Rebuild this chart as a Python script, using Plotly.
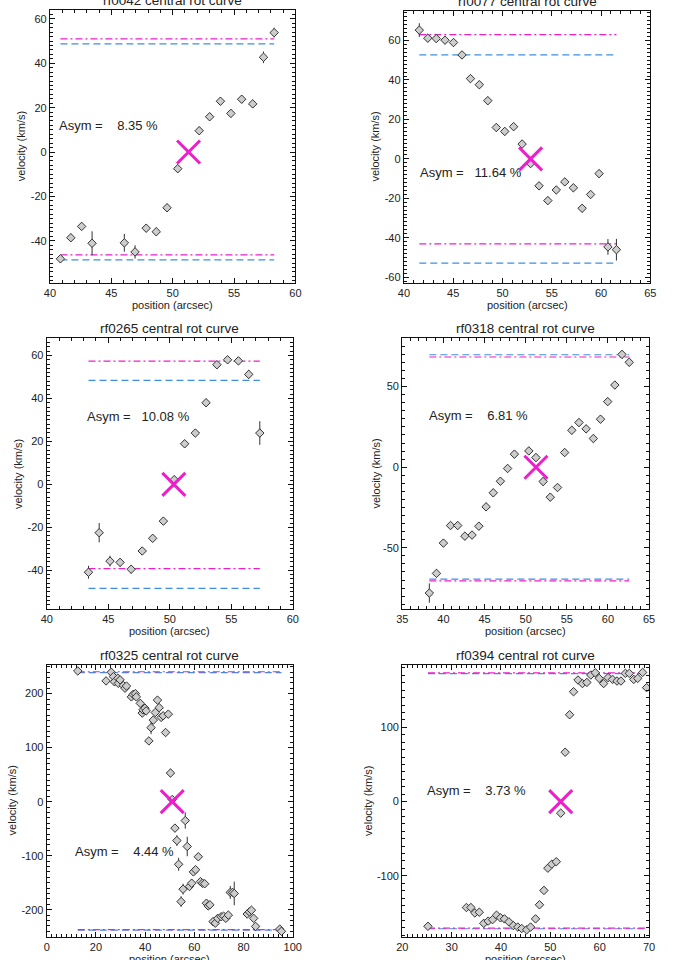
import numpy as np
import plotly.graph_objects as go

W, H = 674, 960
FONT = "Liberation Sans, Arial, Helvetica, sans-serif"
MAG = "#ee1ecc"
BLUE = "#3f8fe0"
INK = "#222222"

# ---------------- data ----------------
titles = ["rf0042 central rot curve", "rf0077 central rot curve",
          "rf0265 central rot curve", "rf0318 central rot curve",
          "rf0325 central rot curve", "rf0394 central rot curve"]
asym = [8.35, 11.64, 10.08, 6.81, 4.44, 3.73]
centers = [51.29, 52.85, 50.33, 51.25, 51.0, 52.1]

# rf0042
pos1 = [40.85, 41.70, 42.58, 43.43, 46.06, 46.93, 47.84, 48.66, 49.54, 50.41,
        52.16, 53.01, 53.89, 54.74, 55.62, 56.52, 57.40, 58.27]
vel1 = [-48.1, -38.6, -33.5, -41.1, -40.9, -45.0, -34.3, -35.9, -25.1, -7.5,
        9.6, 15.9, 22.9, 17.4, 23.8, 21.7, 42.7, 53.8]
err1 = [1.8, 1.8, 1.8, 5.4, 4.0, 3.0, 1.8, 1.8, 1.8, 1.8,
        1.8, 1.8, 1.8, 1.8, 1.8, 1.8, 2.6, 2.2]
lev1 = dict(mag_hi=51.0, blue_hi=48.7, mag_lo=-46.3, blue_lo=-48.6)

# rf0077
pos2 = [41.56, 42.42, 43.28, 44.17, 45.03, 45.89, 46.75, 47.65, 48.51, 49.37,
        50.23, 51.13, 51.99, 52.85, 53.71, 54.60, 55.46, 56.32, 57.19, 58.08,
        58.94, 59.80, 60.70, 61.56]
vel2 = [65.3, 61.2, 61.0, 60.2, 59.0, 52.7, 40.7, 37.6, 29.5, 15.9,
        13.9, 16.3, 7.5, -2.4, -13.7, -21.2, -15.8, -11.7, -14.7, -25.1,
        -18.1, -7.5, -44.7, -46.1]
err2 = [3.5, 2.0, 2.0, 2.0, 2.0, 2.0, 2.0, 2.0, 2.0, 2.0,
        2.0, 2.0, 2.0, 2.0, 2.0, 2.0, 2.0, 2.0, 2.0, 2.0,
        2.0, 2.0, 4.0, 5.5]
lev2 = dict(mag_hi=63.0, blue_hi=52.7, mag_lo=-43.1, blue_lo=-52.9)

# rf0265
pos3 = [43.39, 44.26, 45.14, 45.96, 46.86, 47.76, 48.61, 49.48, 50.36, 51.21,
        52.08, 52.95, 53.83, 54.70, 55.58, 56.42, 57.32]
vel3 = [-40.9, -22.5, -35.7, -36.3, -39.5, -31.0, -25.1, -17.1, 2.2, 18.9,
        23.9, 38.0, 55.7, 58.0, 57.5, 51.2, 23.9]
err3 = [3.0, 4.5, 2.5, 2.0, 2.0, 1.8, 1.8, 1.8, 1.8, 1.8,
        1.8, 1.8, 1.8, 1.8, 1.8, 2.0, 5.5]
lev3 = dict(mag_hi=57.4, blue_hi=48.4, mag_lo=-39.2, blue_lo=-48.4)

# rf0318
pos4 = [38.29, 39.16, 40.00, 40.87, 41.74, 42.61, 43.48, 44.31, 45.19, 46.06,
        46.93, 47.80, 48.63, 50.38, 51.25, 52.12, 52.99, 53.87, 54.74, 55.61,
        56.48, 57.35, 58.23, 59.10, 59.97, 60.84, 61.71, 62.59]
vel4 = [-78.1, -65.9, -47.1, -36.2, -36.2, -42.8, -42.1, -36.6, -24.6, -15.9,
        -8.7, -0.8, 8.1, 10.1, 6.0, -8.9, -18.6, -12.6, 9.1, 22.9,
        27.7, 23.8, 17.8, 29.8, 40.7, 51.0, 70.0, 65.1]
err4 = [6.0] + [2.5] * 27
lev4 = dict(mag_hi=68.4, blue_hi=69.8, mag_lo=-70.5, blue_lo=-69.4)

# rf0325
pos5 = [12.6, 24.1, 26.2, 27.1, 27.5, 28.9, 29.1, 29.8, 31.1, 31.8,
        32.4, 34.4, 35.1, 36.0, 36.4, 38.0, 38.8, 39.1, 39.9, 40.4,
        41.5, 42.4, 43.3, 44.1, 45.0, 45.7, 46.5, 47.3, 48.3, 49.4,
        50.3, 51.0, 52.1, 52.9, 53.6, 54.6, 55.4, 56.3, 57.1, 58.0,
        58.9, 59.6, 60.5, 61.6, 62.5, 63.3, 64.2, 64.9, 65.6, 66.3,
        67.6, 68.5, 69.5, 70.9, 71.9, 72.8, 73.8, 74.6, 75.5, 76.2,
        81.5, 82.4, 83.2, 84.1, 84.9, 94.7, 95.4]
vel5 = [242, 223.5, 239.6, 231.5, 222, 228.5, 219, 225.5, 215, 210,
        214, 194, 198.6, 200, 194, 182, 164, 170, 173, 168,
        112.5, 137, 151, 165, 188, 174, 156, 159, 128, 162,
        53, 4, -49, -72, -116, -185, -162, -35, -83, -157,
        -151, -130, -126, -102, -148, -151, -152, -188, -193, -191,
        -222, -225, -216, -213, -212, -216, -210, -168, -168, -170,
        -208, -204, -201, -216, -231, -236, -240]
err5 = [6, 6, 6, 6, 6, 6, 6, 6, 6, 6,
        6, 6, 6, 6, 6, 6, 6, 6, 6, 6,
        6, 12, 6, 6, 6, 6, 6, 6, 6, 6,
        8, 6, 6, 10, 12, 10, 10, 15, 18, 6,
        8, 6, 6, 6, 6, 6, 6, 6, 6, 6,
        6, 6, 6, 6, 6, 6, 6, 12, 6, 22,
        6, 6, 6, 6, 6, 6, 6]
lev5 = dict(mag_hi=240.5, blue_hi=239.0, mag_lo=-237.0, blue_lo=-238.0)

# rf0394
pos6 = [25.2, 33.0, 33.9, 34.7, 35.6, 36.5, 37.4, 38.3, 39.1, 39.9,
        40.7, 41.6, 42.5, 43.4, 44.2, 45.2, 46.0, 47.0, 47.8, 48.7,
        49.5, 50.3, 51.2, 52.1, 53.0, 53.9, 54.7, 55.6, 56.5, 57.4,
        58.2, 59.1, 59.9, 60.8, 61.7, 62.6, 63.5, 64.3, 65.2, 66.0,
        66.9, 67.7, 68.7, 69.5]
vel6 = [-168, -142.7, -142.7, -150, -149, -164, -161, -159, -153, -156.6,
        -158, -162, -167, -169, -171, -172.7, -169, -158, -139, -119.7,
        -89.7, -84.3, -81, -15.6, 66.5, 117, 148, 163.8, 159, 160.5,
        170.5, 173.6, 166, 159, 167, 164.6, 162.4, 162.4, 172.7, 172.7,
        164.6, 166, 174, 153.5]
err6 = [4.5] * len(pos6)
lev6 = dict(mag_hi=173.3, blue_hi=172.3, mag_lo=-170.5, blue_lo=-171.3)

xranges = [[40, 60], [40, 65], [40, 60], [35, 65], [0, 100], [20, 70]]
yranges = [[-59, 64], [-63, 75], [-58, 68], [-88, 80], [-250, 253], [-182, 184]]
xticks = [[40, 45, 50, 55, 60], [40, 45, 50, 55, 60, 65], [40, 45, 50, 55, 60],
          [35, 40, 45, 50, 55, 60, 65], [0, 20, 40, 60, 80, 100], [20, 30, 40, 50, 60, 70]]
yticks = [[-40, -20, 0, 20, 40, 60], [-60, -40, -20, 0, 20, 40, 60],
          [-40, -20, 0, 20, 40, 60], [-50, 0, 50], [-200, -100, 0, 100, 200], [-100, 0, 100]]
xminor = [1, 1, 1, 1, 2, 1]
yminor = [2, 2, 2, 5, 10, 10]

# ---------------- layout geometry (pixels) ----------------
boxes = [(45, 10, 296, 283), (407, 11, 659, 283),
         (41.7, 338.3, 293.3, 609), (405.3, 338.3, 657.7, 609),
         (41.7, 665, 293.3, 936.7), (405.3, 665, 657.7, 936.7)]
asym_px = [(52, 126), (421, 173), (81, 416), (431, 415), (69, 851), (429, 790)]
ytitle_off = [30, 30, 30, 27, 36, 35]

panels = [(pos1, vel1, err1, lev1), (pos2, vel2, err2, lev2), (pos3, vel3, err3, lev3),
          (pos4, vel4, err4, lev4), (pos5, vel5, err5, lev5), (pos6, vel6, err6, lev6)]


def px_x(p):
    return p / W


def px_y(p):
    return 1 - p / H


fig = go.Figure()
annotations = []
layout_axes = {}

for i, (pos, vel, err, lev) in enumerate(panels):
    n = i + 1
    xa = "x" if n == 1 else f"x{n}"
    ya = "y" if n == 1 else f"y{n}"
    xmin, xmax = min(pos), max(pos)
    # reference levels
    for key, col, dash in (("blue_hi", BLUE, "7px,4px"), ("blue_lo", BLUE, "7px,4px"),
                           ("mag_hi", MAG, "7px,3px,2px,3px"), ("mag_lo", MAG, "7px,3px,2px,3px")):
        fig.add_trace(go.Scatter(x=[xmin, xmax], y=[lev[key]] * 2, mode="lines",
                                 line=dict(color=col, width=1.2, dash=dash),
                                 xaxis=xa, yaxis=ya, showlegend=False, hoverinfo="skip"))
    # data points
    fig.add_trace(go.Scatter(x=pos, y=vel, mode="markers",
                             marker=dict(symbol="diamond", size=6.5, color="#cdcdcd",
                                         line=dict(color="#333333", width=1)),
                             error_y=dict(type="data", array=err, visible=True, width=0,
                                          thickness=1, color="#333333"),
                             xaxis=xa, yaxis=ya, showlegend=False))
    # centre cross
    fig.add_trace(go.Scatter(x=[centers[i]], y=[0], mode="markers",
                             marker=dict(symbol="x-thin", size=23, color=MAG,
                                         line=dict(color=MAG, width=3)),
                             xaxis=xa, yaxis=ya, showlegend=False))

    L, T, R, B = boxes[i]
    common = dict(showline=True, linecolor="#111111", linewidth=1.3, mirror="allticks",
                  ticks="inside", ticklen=5, tickwidth=1, tickcolor="#111111",
                  showgrid=False, zeroline=False,
                  tickfont=dict(family=FONT, size=11, color=INK))
    xkey = "xaxis" if n == 1 else f"xaxis{n}"
    ykey = "yaxis" if n == 1 else f"yaxis{n}"
    layout_axes[xkey] = dict(common, domain=[px_x(L), px_x(R)], range=xranges[i],
                             anchor=ya, tickmode="array", tickvals=xticks[i],
                             ticktext=[str(v) for v in xticks[i]],
                             minor=dict(ticks="inside", ticklen=3, dtick=xminor[i],
                                        tick0=xranges[i][0], tickcolor="#111111"))
    layout_axes[ykey] = dict(common, domain=[px_y(B), px_y(T)], range=yranges[i],
                             anchor=xa, tickmode="array", tickvals=yticks[i],
                             ticktext=[str(v) for v in yticks[i]],
                             minor=dict(ticks="inside", ticklen=3, dtick=yminor[i],
                                        tick0=0, tickcolor="#111111"))

    # titles and labels
    annotations.append(dict(text=titles[i], xref="paper", yref="paper",
                            x=px_x((L + R) / 2), y=px_y(T - 10), xanchor="center",
                            yanchor="middle", showarrow=False,
                            font=dict(family=FONT, size=13.5, color=INK)))
    annotations.append(dict(text="position (arcsec)", xref="paper", yref="paper",
                            x=px_x((L + R) / 2), y=px_y(B + 22), xanchor="center",
                            yanchor="middle", showarrow=False,
                            font=dict(family=FONT, size=11, color=INK)))
    annotations.append(dict(text="velocity (km/s)", xref="paper", yref="paper",
                            x=px_x(L - ytitle_off[i]), y=px_y((T + B) / 2),
                            xanchor="center", yanchor="middle", textangle=-90,
                            showarrow=False, font=dict(family=FONT, size=11, color=INK)))
    ax_txt = "Asym =" + f"{asym[i]:8.2f}".replace(" ", "\u00a0") + "\u00a0%"
    annotations.append(dict(text=ax_txt, xref="paper", yref="paper",
                            x=px_x(asym_px[i][0]), y=px_y(asym_px[i][1]),
                            xanchor="left", yanchor="middle", showarrow=False,
                            font=dict(family=FONT, size=13, color=INK)))

fig.update_layout(width=W, height=H, margin=dict(l=0, r=0, t=0, b=0),
                  paper_bgcolor="white", plot_bgcolor="white",
                  showlegend=False, annotations=annotations, **layout_axes)

fig.write_html("out.html")
